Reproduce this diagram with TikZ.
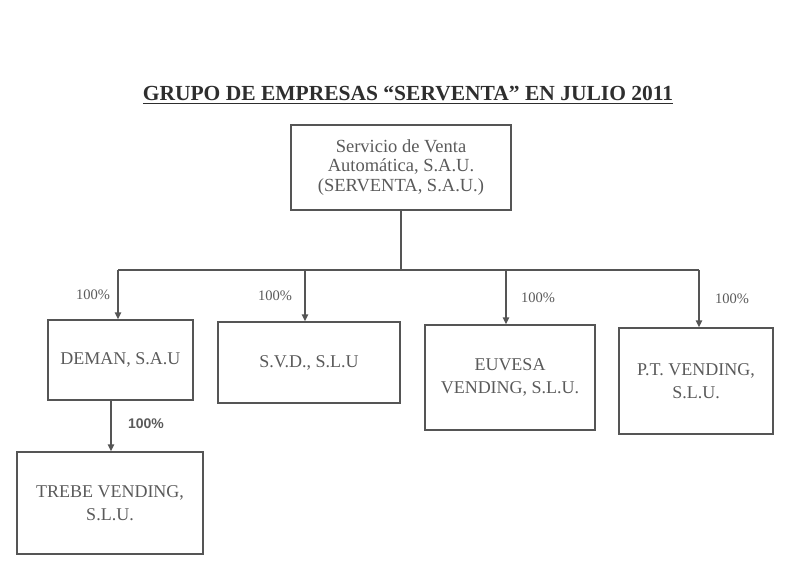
\documentclass[tikz,border=0pt]{standalone}
\usepackage{fontspec}
\setmainfont{Liberation Serif}
\newfontfamily\labsans{Liberation Sans}
\usetikzlibrary{arrows.meta}
\definecolor{txtgray}{HTML}{5A5A5A}
\definecolor{linegray}{HTML}{555555}
\definecolor{titlegray}{HTML}{2E2E2E}
\begin{document}
\begin{tikzpicture}[x=1pt,y=-1pt,
  box/.style={draw=linegray,line width=1.5pt,inner sep=0pt,align=center,
    text=txtgray,font=\fontsize{18}{22.5}\selectfont},
  conn/.style={draw=linegray,line width=1.5pt},
  arr/.style={conn,-{Triangle[length=7pt,width=6.5pt]}},
  pct/.style={text=txtgray,font=\fontsize{14.5}{16}\selectfont,inner sep=0pt},
  pctb/.style={text=txtgray,font=\labsans\bfseries\fontsize{14}{16}\selectfont,inner sep=0pt}]
\useasboundingbox (0,0) rectangle (787,584);
\node[text=titlegray,font=\bfseries\fontsize{21.5}{25}\selectfont,inner sep=0pt] (title) at (408,95)
  {\underline{GRUPO DE EMPRESAS “SERVENTA” EN JULIO 2011}};
\node[box,minimum width=220pt,minimum height=85pt,font=\fontsize{18.5}{19.5}\selectfont] (top) at (401,167.5)
  {Servicio de Venta\\Automática, S.A.U.\\(SERVENTA, S.A.U.)};
\node[box,minimum width=145pt,minimum height=80pt] (deman) at (120.5,360) {DEMAN, S.A.U};
\node[box,minimum width=182pt,minimum height=81pt] (svd) at (309,362.5) {S.V.D., S.L.U};
\node[box,minimum width=170pt,minimum height=105pt] (euvesa) at (510,377.5) {EUVESA\\VENDING, S.L.U.};
\node[box,minimum width=154pt,minimum height=106pt] (pt) at (696,381) {P.T. VENDING,\\S.L.U.};
\node[box,minimum width=186pt,minimum height=102pt] (trebe) at (110,503) {TREBE VENDING,\\S.L.U.};
\coordinate (j) at (401,270);
\coordinate (b1) at (118,270);
\coordinate (b2) at (305,270);
\coordinate (b3) at (506,270);
\coordinate (b4) at (699,270);
\coordinate (d1) at (111,400);
\draw[conn] (top.south) -- (j);
\draw[conn] (b1) -- (b4);
\draw[arr] (b1) -- (b1 |- deman.north);
\draw[arr] (b2) -- (b2 |- svd.north);
\draw[arr] (b3) -- (b3 |- euvesa.north);
\draw[arr] (b4) -- (b4 |- pt.north);
\draw[arr] (d1) -- (d1 |- trebe.north);
\node[pct] (p1) at (93,295) {100\%};
\node[pct] (p2) at (275,296) {100\%};
\node[pct] (p3) at (538,298) {100\%};
\node[pct] (p4) at (732,299) {100\%};
\node[pctb] (p5) at (146,424) {100\%};
\end{tikzpicture}
\end{document}
